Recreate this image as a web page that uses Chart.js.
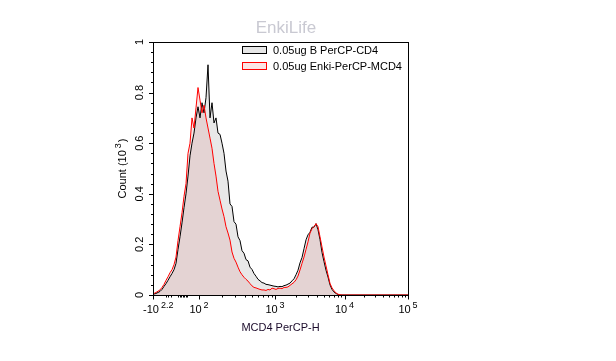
<!DOCTYPE html>
<html><head><meta charset="utf-8">
<script src="https://cdn.jsdelivr.net/npm/chart.js@4/dist/chart.umd.min.js"></script>
<style>html,body{margin:0;padding:0;background:#fff;overflow:hidden}</style>
</head><body>
<canvas id="c" width="616" height="361" style="display:block;width:616px;height:361px"></canvas>
<script>
// ---------- data (counts in units of 10^3, per display channel) ----------
const chartTitle = 'EnkiLife';
const seriesLabels = ['0.05ug B PerCP-CD4', '0.05ug Enki-PerCP-MCD4'];
const xTitle = 'MCD4 PerCP-H';
const yTitleBase = 'Count (10', yTitleExp = '3', yTitleEnd = ')';
// display channel centres (0 = left edge of axis, 255 = right edge)
const channels = Array.from({length: 128}, (_, i) => 1 + 2 * i);
const countB = [
 0.004,0.006,0.010,0.014,0.022,0.034,0.045,0.058,0.072,0.085,0.100,0.125,0.180,0.230,0.285,0.345,
 0.400,0.470,0.550,0.600,0.640,0.700,0.744,0.700,0.760,0.720,0.780,0.910,0.700,0.760,0.680,0.700,
 0.640,0.635,0.600,0.560,0.490,0.450,0.360,0.350,0.290,0.280,0.230,0.215,0.175,0.165,0.140,0.135,
 0.110,0.101,0.085,0.074,0.062,0.056,0.049,0.047,0.042,0.041,0.039,0.037,0.035,0.034,0.032,0.034,
 0.033,0.037,0.039,0.043,0.047,0.056,0.064,0.080,0.098,0.127,0.148,0.183,0.218,0.238,0.248,0.268,
 0.268,0.282,0.258,0.219,0.168,0.132,0.098,0.071,0.040,0.022,0.012,0.006,0.002,0,0,0,
 0,0,0,0,0,0,0,0,0,0,0,0,0,0,0,0,
 0,0,0,0,0,0,0,0,0,0,0,0,0,0,0,0
];
const countEnki = [
 0.006,0.010,0.015,0.020,0.030,0.042,0.058,0.072,0.088,0.100,0.120,0.150,0.215,0.270,0.325,0.390,
 0.440,0.560,0.600,0.700,0.660,0.740,0.820,0.770,0.720,0.750,0.700,0.660,0.620,0.580,0.520,0.470,
 0.410,0.375,0.340,0.310,0.270,0.245,0.217,0.170,0.145,0.130,0.110,0.092,0.080,0.070,0.062,0.055,
 0.045,0.036,0.030,0.028,0.025,0.022,0.020,0.020,0.018,0.022,0.020,0.027,0.025,0.022,0.026,0.027,
 0.025,0.030,0.030,0.032,0.038,0.044,0.050,0.060,0.075,0.099,0.125,0.150,0.180,0.210,0.245,0.262,
 0.270,0.282,0.270,0.230,0.190,0.150,0.115,0.080,0.046,0.028,0.017,0.008,0.003,0.001,0,0,
 0,0,0,0,0,0,0,0,0,0,0,0,0,0,0,0,
 0,0,0,0,0,0,0,0,0,0,0,0,0,0,0,0
];
// x axis: major ticks (display channel), labels as base + exponent
const xMajorPos  = [0, 46, 122, 191.5, 255];
const xMajorBase = ['-10', '10', '10', '10', '10'];
const xMajorExp  = ['2.2', '2', '3', '4', '5'];
const xMinorNearZero = [12.7, 15.3, 18, 25, 26.5, 28, 29.5, 31, 32.5, 34];
// y axis
const yMajor = [0, 0.2, 0.4, 0.6, 0.8, 1];
const yMajorLabels = ['0', '0.2', '0.4', '0.6', '0.8', '1'];
const yMinorStep = 0.04;

// ---------- drawing ----------
const FONT = '"Liberation Sans", Arial, Helvetica, sans-serif';

function supWidth(ctx, base, exp, size) {
  ctx.font = size + 'px ' + FONT;
  const wb = ctx.measureText(base).width;
  ctx.font = Math.round(size * 0.78) + 'px ' + FONT;
  const we = ctx.measureText(exp).width;
  return {wb, we, total: wb + 2 + we};
}
function drawSup(ctx, base, exp, x0, y, size) {
  const m = supWidth(ctx, base, exp, size);
  ctx.textAlign = 'left';
  ctx.font = size + 'px ' + FONT;
  ctx.fillText(base, x0, y);
  ctx.font = Math.round(size * 0.78) + 'px ' + FONT;
  ctx.fillText(exp, x0 + m.wb + 2, y - size * 0.45);
  return m.total;
}

const decoPlugin = {
  id: 'deco',
  afterDatasetsDraw(chart) {
    const ctx = chart.ctx, a = chart.chartArea;
    const xs = chart.scales.x, ys = chart.scales.y;
    ctx.save();
    ctx.strokeStyle = '#000';
    ctx.lineWidth = 1;
    // frame
    ctx.strokeRect(Math.round(a.left) + 0.5, Math.round(a.top) + 0.5,
                   Math.round(a.right - a.left), Math.round(a.bottom - a.top));
    ctx.beginPath();
    // y ticks
    for (let v = 0; v <= 1.0001; v += yMinorStep) {
      const y = Math.round(ys.getPixelForValue(v)) + 0.5;
      ctx.moveTo(a.left - 2, y); ctx.lineTo(a.left, y);
    }
    yMajor.forEach(v => {
      const y = Math.round(ys.getPixelForValue(v)) + 0.5;
      ctx.moveTo(a.left - 4, y); ctx.lineTo(a.left, y);
    });
    // x ticks
    const bottom = Math.round(a.bottom) + 0.5;
    xMajorPos.forEach(p => {
      const x = Math.round(xs.getPixelForValue(p)) + 0.5;
      ctx.moveTo(x, bottom); ctx.lineTo(x, bottom + 4);
    });
    const minor = xMinorNearZero.slice();
    for (let d = 1; d <= 3; d++) {
      const p0 = xMajorPos[d], p1 = xMajorPos[d + 1];
      for (let k = 2; k <= 9; k++) minor.push(p0 + Math.log10(k) * (p1 - p0));
    }
    minor.forEach(p => {
      const x = Math.round(xs.getPixelForValue(p)) + 0.5;
      ctx.moveTo(x, bottom); ctx.lineTo(x, bottom + 2);
    });
    ctx.stroke();

    // x tick labels
    ctx.fillStyle = '#000';
    ctx.textBaseline = 'alphabetic';
    xMajorPos.forEach((p, i) => {
      const x = xs.getPixelForValue(p);
      const m = supWidth(ctx, xMajorBase[i], xMajorExp[i], 11);
      let x0 = x - m.total / 2;
      if (i === 0) x0 = a.left - 10;
      drawSup(ctx, xMajorBase[i], xMajorExp[i], x0, 313, 11);
    });
    // y tick labels (rotated)
    yMajor.forEach((v, i) => {
      const y = ys.getPixelForValue(v);
      ctx.save();
      ctx.translate(a.left - 10, y);
      ctx.rotate(-Math.PI / 2);
      ctx.font = '11px ' + FONT;
      ctx.textAlign = 'center';
      ctx.fillText(yMajorLabels[i], 0, 0);
      ctx.restore();
    });
    // axis titles
    ctx.font = '11px ' + FONT;
    ctx.textAlign = 'center';
    ctx.fillStyle = '#1c0c2c';
    ctx.fillText(xTitle, (a.left + a.right) / 2, 331);
    ctx.save();
    ctx.translate(126, (a.top + a.bottom) / 2);
    ctx.rotate(-Math.PI / 2);
    ctx.fillStyle = '#000';
    const m1 = supWidth(ctx, yTitleBase, yTitleExp, 11);
    ctx.font = '11px ' + FONT;
    const wEnd = ctx.measureText(yTitleEnd).width;
    const tot = m1.total + 1 + wEnd;
    let xx = -tot / 2;
    xx += drawSup(ctx, yTitleBase, yTitleExp, xx, 0, 11) + 1;
    ctx.font = '11px ' + FONT;
    ctx.textAlign = 'left';
    ctx.fillText(yTitleEnd, xx, 0);
    ctx.restore();

    // chart title
    ctx.font = '17px ' + FONT;
    ctx.textAlign = 'center';
    ctx.fillStyle = '#c9c9d2';
    ctx.fillText(chartTitle, 286, 33);

    // legend
    const legend = [
      {stroke: '#000000', fill: '#e6e6e6'},
      {stroke: '#ff0000', fill: '#fbe4e4'}
    ];
    legend.forEach((l, i) => {
      const ty = 46 + i * 16;
      ctx.fillStyle = l.fill;
      ctx.fillRect(242, ty, 25, 8);
      ctx.strokeStyle = l.stroke;
      ctx.lineWidth = 1;
      ctx.strokeRect(242.5, ty + 0.5, 24, 7);
      ctx.fillStyle = '#000';
      ctx.font = '11px ' + FONT;
      ctx.textAlign = 'left';
      ctx.fillText(seriesLabels[i], 273, ty + 8);
    });
    ctx.restore();
  }
};

new Chart(document.getElementById('c'), {
  type: 'line',
  data: {
    datasets: [
      {
        label: seriesLabels[0],
        data: channels.map((c, i) => ({x: c, y: countB[i]})),
        borderColor: '#000000',
        backgroundColor: 'rgba(0,0,0,0.09)',
        borderWidth: 1,
        fill: 'origin',
        pointRadius: 0,
        tension: 0,
        order: 1
      },
      {
        label: seriesLabels[1],
        data: channels.map((c, i) => ({x: c, y: countEnki[i]})),
        borderColor: '#ff0000',
        backgroundColor: 'rgba(200,60,60,0.12)',
        borderWidth: 1,
        fill: 'origin',
        pointRadius: 0,
        tension: 0,
        order: 0
      }
    ]
  },
  options: {
    responsive: false,
    animation: false,
    events: [],
    layout: {padding: {left: 153, right: 208, top: 42, bottom: 66}},
    scales: {
      x: {type: 'linear', min: 0, max: 255, display: false},
      y: {type: 'linear', min: 0, max: 1, display: false}
    },
    plugins: {
      legend: {display: false},
      title: {display: false},
      tooltip: {enabled: false},
      filler: {drawTime: 'beforeDatasetsDraw'}
    }
  },
  plugins: [decoPlugin]
});
</script>
</body></html>
